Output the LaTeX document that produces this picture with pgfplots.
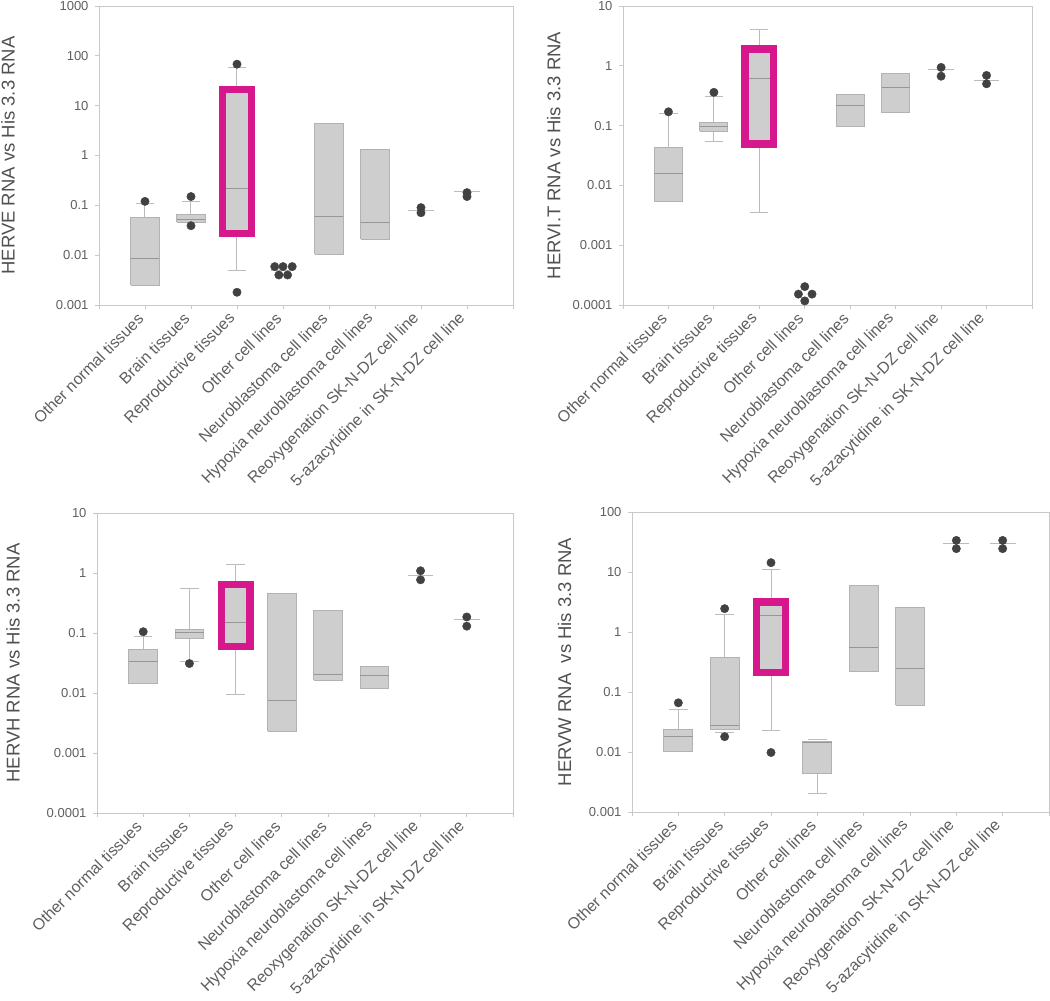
\documentclass[border=0pt]{standalone}
\usepackage{pgfplots}
\pgfplotsset{compat=1.18}
\usepackage{fontspec}
\setmainfont{Liberation Sans}
\definecolor{axgray}{RGB}{200,200,200}
\definecolor{txtgray}{RGB}{95,95,95}
\definecolor{lblgray}{RGB}{80,80,80}
\definecolor{boxfill}{RGB}{206,206,206}
\definecolor{boxedge}{RGB}{178,178,178}
\definecolor{medc}{RGB}{150,150,150}
\definecolor{whc}{RGB}{188,188,188}
\definecolor{magc}{RGB}{214,24,140}
\definecolor{dotc}{RGB}{65,65,65}
\pgfplotsset{
  hervaxis/.style={
    scale only axis, xmin=0, xmax=9, clip=false,
    axis line style={draw=axgray, line width=0.9pt},
    xtick={0,1,2,3,4,5,6,7,8,9},
    xticklabels={{},Other normal tissues, Brain tissues, Reproductive tissues, Other cell lines, Neuroblastoma cell lines, Hypoxia neuroblastoma cell lines, Reoxygenation SK-N-DZ cell line, 5-azacytidine in SK-N-DZ cell line,{}},
    tick align=outside, tick pos=left, major tick length=4pt,
    tick style={draw=axgray, line width=0.8pt},
    yminorticks=false,
    xticklabel style={rotate=45, anchor=east, font=\fontsize{16}{18}\selectfont, text=txtgray, inner sep=2pt, xshift=-6pt, yshift=-2pt},
    yticklabel style={font=\fontsize{13}{15}\selectfont, text=txtgray, xshift=-3pt},
  },
  hwhisk/.style={draw=whc, line width=1pt},
  hboxst/.style={draw=boxedge, fill=boxfill, line width=1pt},
  hmedst/.style={draw=medc, line width=1pt},
  hmag/.style={draw=magc, line width=7.5pt, line join=miter},
  hdots/.style={only marks, mark=*, mark size=4.2pt, mark options={draw=dotc, fill=dotc}},
}
\newcommand{\Wv}[3]{\addplot[hwhisk] coordinates {(#1,#2) (#1,#3)};}
\newcommand{\Wh}[3]{\pgfmathsetmacro\xa{#1-#3}\pgfmathsetmacro\xb{#1+#3}\addplot[hwhisk] coordinates {(\xa,#2) (\xb,#2)};}
\newcommand{\BX}[4]{\pgfmathsetmacro\xa{#1-0.31}\pgfmathsetmacro\xb{#1+0.31}%
  \addplot[hboxst] coordinates {(\xa,#2) (\xb,#2) (\xb,#4) (\xa,#4) (\xa,#2)};
  \addplot[hmedst] coordinates {(\xa,#3) (\xb,#3)};}
\newcommand{\MG}[3]{\pgfmathsetmacro\xa{#1-0.31}\pgfmathsetmacro\xb{#1+0.31}%
  \addplot[hmag] coordinates {(\xa,#2) (\xb,#2) (\xb,#3) (\xa,#3) (\xa,#2) (\xb,#2)};}
\begin{document}
\begin{tikzpicture}
\useasboundingbox (0,0) rectangle (1050pt,1001pt);
% ---------------- Panel 1: HERVE
\begin{axis}[hervaxis, ymode=log, at={(99pt,696pt)}, anchor=south west, width=414pt, height=299pt,
  ymin=0.001, ymax=1000,
  ytick={0.001,0.01,0.1,1,10,100,1000}, yticklabels={0.001,0.01,0.1,1,10,100,1000},
  ylabel={HERVE RNA vs His 3.3 RNA},
  ylabel style={at={(axis description cs:-0.22,0.5)}, anchor=center, font=\fontsize{18.5}{20}\selectfont, text=lblgray}]
\Wv{1}{0.056}{0.11}\Wh{1}{0.11}{0.2}
\BX{1}{0.0025}{0.0087}{0.056}
\Wv{2}{0.066}{0.12}\Wh{2}{0.12}{0.2}
\BX{2}{0.046}{0.052}{0.066}
\Wv{3}{0.0049}{0.027}\Wv{3}{21}{57}\Wh{3}{57}{0.2}\Wh{3}{0.0049}{0.2}
\BX{3}{0.027}{0.22}{21}\MG{3}{0.027}{21}
\Wh{4}{0.005}{0.25}
\BX{5}{0.0105}{0.061}{4.4}
\BX{6}{0.021}{0.045}{1.3}
\Wh{7}{0.079}{0.28}
\Wh{8}{0.19}{0.28}
\addplot[hdots] coordinates {(1,0.12) (2,0.15) (2,0.039) (3,68) (3,0.0018)
  (3.82,0.0059) (4,0.0059) (4.2,0.0059) (3.91,0.004) (4.1,0.004)
  (7,0.09) (7,0.071) (8,0.18) (8,0.15)};
\end{axis}
% ---------------- Panel 2: HERVI.T
\begin{axis}[hervaxis, ymode=log, at={(623pt,696pt)}, anchor=south west, width=409pt, height=299pt,
  ymin=0.0001, ymax=10,
  ytick={0.0001,0.001,0.01,0.1,1,10}, yticklabels={0.0001,0.001,0.01,0.1,1,10},
  ylabel={HERVI.T RNA vs His 3.3 RNA},
  ylabel style={at={(axis description cs:-0.169,0.5)}, anchor=center, font=\fontsize{18.5}{20}\selectfont, text=lblgray}]
\Wv{1}{0.043}{0.16}\Wh{1}{0.16}{0.2}
\BX{1}{0.0054}{0.016}{0.043}
\Wv{2}{0.054}{0.081}\Wv{2}{0.114}{0.31}\Wh{2}{0.31}{0.2}\Wh{2}{0.054}{0.2}
\BX{2}{0.081}{0.095}{0.114}
\Wv{3}{0.0035}{0.049}\Wv{3}{1.91}{4.0}\Wh{3}{4.0}{0.2}\Wh{3}{0.0035}{0.2}
\BX{3}{0.049}{0.62}{1.91}\MG{3}{0.049}{1.91}
\BX{5}{0.096}{0.215}{0.33}
\BX{6}{0.165}{0.43}{0.75}
\Wh{7}{0.87}{0.28}
\Wh{8}{0.56}{0.28}
\addplot[hdots] coordinates {(1,0.17) (2,0.36)
  (4,0.000203) (3.86,0.000152) (4.16,0.000152) (4,0.000117)
  (7,0.94) (7,0.67) (8,0.69) (8,0.50)};
\end{axis}
% ---------------- Panel 3: HERVH
\begin{axis}[hervaxis, ymode=log, at={(97pt,188pt)}, anchor=south west, width=416pt, height=300pt,
  ymin=0.0001, ymax=10,
  ytick={0.0001,0.001,0.01,0.1,1,10}, yticklabels={0.0001,0.001,0.01,0.1,1,10},
  ylabel={HERVH RNA vs His 3.3 RNA},
  ylabel style={at={(axis description cs:-0.202,0.5)}, anchor=center, font=\fontsize{18.5}{20}\selectfont, text=lblgray}]
\Wv{1}{0.054}{0.088}\Wh{1}{0.088}{0.2}
\BX{1}{0.0143}{0.034}{0.054}
\Wv{2}{0.034}{0.082}\Wv{2}{0.116}{0.56}\Wh{2}{0.56}{0.2}\Wh{2}{0.034}{0.2}
\BX{2}{0.082}{0.101}{0.116}
\Wv{3}{0.0096}{0.060}\Wv{3}{0.64}{1.41}\Wh{3}{1.41}{0.2}\Wh{3}{0.0096}{0.2}
\BX{3}{0.060}{0.15}{0.64}\MG{3}{0.060}{0.64}
\BX{4}{0.0023}{0.0075}{0.45}
\BX{5}{0.0163}{0.02}{0.24}
\BX{6}{0.012}{0.0194}{0.0275}
\Wh{7}{0.91}{0.28}
\Wh{8}{0.17}{0.28}
\addplot[hdots] coordinates {(1,0.105) (2,0.031)
  (7,1.09) (7,0.77) (8,0.185) (8,0.13)};
\end{axis}
% ---------------- Panel 4: HERVW
\begin{axis}[hervaxis, ymode=log, at={(632pt,189pt)}, anchor=south west, width=417pt, height=300pt,
  ymin=0.001, ymax=100,
  ytick={0.001,0.01,0.1,1,10,100}, yticklabels={0.001,0.01,0.1,1,10,100},
  ylabel={HERVW RNA~ vs His 3.3 RNA},
  ylabel style={at={(axis description cs:-0.162,0.5)}, anchor=center, font=\fontsize{18.5}{20}\selectfont, text=lblgray}]
\Wv{1}{0.024}{0.052}\Wh{1}{0.052}{0.2}
\BX{1}{0.010}{0.018}{0.024}
\Wv{2}{0.37}{1.97}\Wh{2}{1.97}{0.2}\Wh{2}{0.021}{0.2}
\BX{2}{0.024}{0.028}{0.37}
\Wv{3}{0.0224}{0.21}\Wv{3}{3.16}{11.2}\Wh{3}{11.2}{0.2}\Wh{3}{0.0224}{0.2}
\BX{3}{0.21}{1.85}{3.16}\MG{3}{0.21}{3.16}
\Wv{4}{0.002}{0.0043}\Wh{4}{0.002}{0.2}\Wh{4}{0.016}{0.2}
\BX{4}{0.0043}{0.0143}{0.0147}
\BX{5}{0.22}{0.55}{5.9}
\BX{6}{0.06}{0.245}{2.55}
\Wh{7}{29.6}{0.28}
\Wh{8}{29.6}{0.28}
\addplot[hdots] coordinates {(1,0.066) (2,2.45) (2,0.018) (3,14.3) (3,0.0098)
  (7,33.6) (7,24.5) (8,33.6) (8,24.5)};
\end{axis}
\end{tikzpicture}
\end{document}
